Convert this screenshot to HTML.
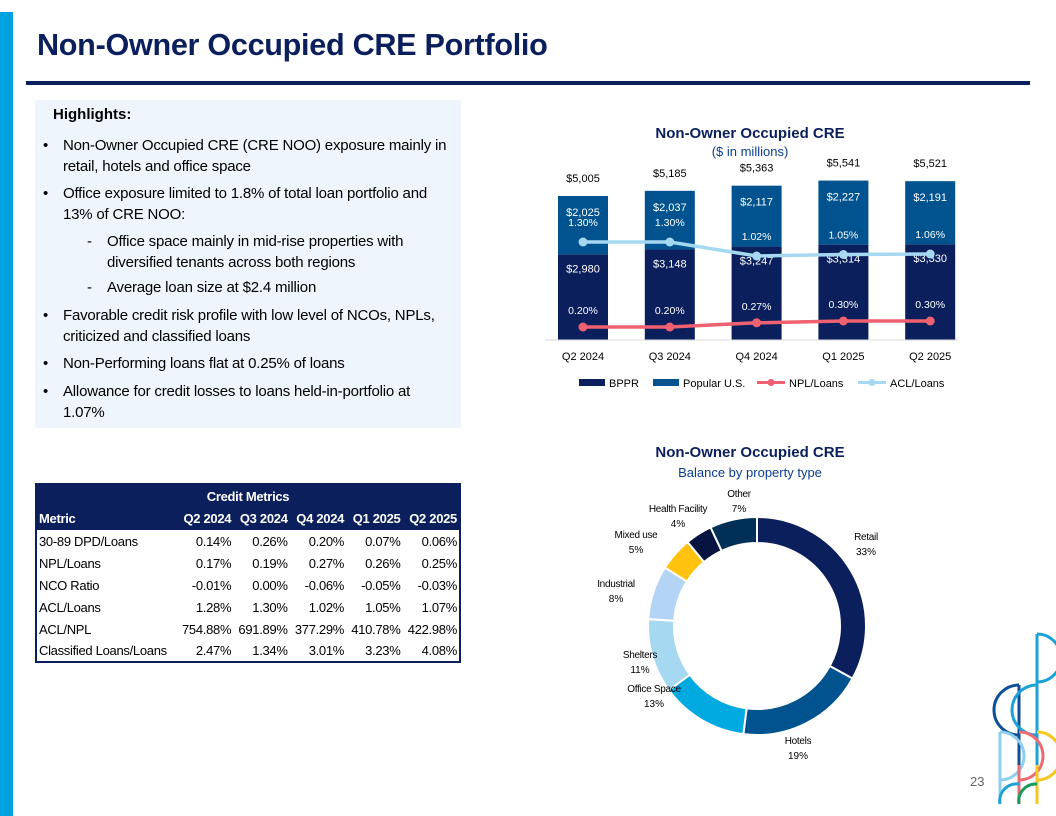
<!DOCTYPE html>
<html><head><meta charset="utf-8">
<style>
*{margin:0;padding:0;box-sizing:border-box}
body{width:1056px;height:816px;position:relative;background:#fff;font-family:"Liberation Sans",sans-serif;overflow:hidden;color:#000}
.abs{position:absolute}
#title{left:37px;top:28px;font-size:30.6px;font-weight:bold;color:#0a1f5c;letter-spacing:-0.3px}
#rule{left:26px;top:81px;width:1004px;height:4px;background:#0a1f5c}
#strip{left:0;top:12px;width:13px;height:804px;background:#00a3e0}
#hl{left:35px;top:100px;width:426px;height:328px;background:#eef5fd}
#hl .h{position:absolute;left:18px;top:6px;font-weight:bold;font-size:15px}
.b{position:absolute;font-size:15px;line-height:21px;letter-spacing:-0.2px}
.b.l1{left:8px}.b.l1 .t{margin-left:20px;display:block}
.bd{position:absolute;left:0}
table{border-collapse:collapse;font-size:13px;letter-spacing:-0.3px}
#tbl{left:35px;top:483px;width:426px;border:2px solid #0a1f5c}
#tbl td{height:22px;padding:0 2px;text-align:right;white-space:nowrap}
#tbl td:first-child{text-align:left}
#tbl tr.hd td{background:#0a1f5c;color:#fff;font-weight:bold;height:23px}
</style></head><body>
<div id="strip" class="abs"></div>
<div id="title" class="abs">Non-Owner Occupied CRE Portfolio</div>
<div id="rule" class="abs"></div>

<div id="hl" class="abs">
 <div class="h">Highlights:</div>
 <div class="b l1" style="top:35px;width:410px"><span class="bd">•</span><span class="t">Non-Owner Occupied CRE (CRE NOO) exposure mainly in retail, hotels and office space</span></div>
 <div class="b l1" style="top:83px;width:410px"><span class="bd">•</span><span class="t">Office exposure limited to 1.8% of total loan portfolio and 13% of CRE NOO:</span></div>
 <div class="b" style="left:52px;top:131px;width:360px"><span class="bd">-</span><span style="display:block;margin-left:20px">Office space mainly in mid-rise properties with diversified tenants across both regions</span></div>
 <div class="b" style="left:52px;top:177px;width:360px"><span class="bd">-</span><span style="display:block;margin-left:20px">Average loan size at $2.4 million</span></div>
 <div class="b l1" style="top:205px;width:410px"><span class="bd">•</span><span class="t">Favorable credit risk profile with low level of NCOs, NPLs, criticized and classified loans</span></div>
 <div class="b l1" style="top:253px;width:410px"><span class="bd">•</span><span class="t">Non-Performing loans flat at 0.25% of loans</span></div>
 <div class="b l1" style="top:281px;width:410px"><span class="bd">•</span><span class="t">Allowance for credit losses to loans held-in-portfolio at 1.07%</span></div>
</div>

<table id="tbl" class="abs">
<tr class="hd"><td colspan="6" style="text-align:center">Credit Metrics</td></tr>
<tr class="hd"><td>Metric</td><td>Q2 2024</td><td>Q3 2024</td><td>Q4 2024</td><td>Q1 2025</td><td>Q2 2025</td></tr>
<tr><td>30-89 DPD/Loans</td><td>0.14%</td><td>0.26%</td><td>0.20%</td><td>0.07%</td><td>0.06%</td></tr>
<tr><td>NPL/Loans</td><td>0.17%</td><td>0.19%</td><td>0.27%</td><td>0.26%</td><td>0.25%</td></tr>
<tr><td>NCO Ratio</td><td>-0.01%</td><td>0.00%</td><td>-0.06%</td><td>-0.05%</td><td>-0.03%</td></tr>
<tr><td>ACL/Loans</td><td>1.28%</td><td>1.30%</td><td>1.02%</td><td>1.05%</td><td>1.07%</td></tr>
<tr><td>ACL/NPL</td><td>754.88%</td><td>691.89%</td><td>377.29%</td><td>410.78%</td><td>422.98%</td></tr>
<tr><td>Classified Loans/Loans</td><td>2.47%</td><td>1.34%</td><td>3.01%</td><td>3.23%</td><td>4.08%</td></tr>
</table>

<svg id="chart" class="abs" style="left:0;top:0" width="1056" height="816" font-family="Liberation Sans, sans-serif"></svg>

<svg class="abs" style="left:960px;top:600px" width="96" height="216" fill="none" stroke-width="3">
 <path d="M77 34 V204 M77 34 a17 17 0 0 1 0 48" stroke="#1ba0d8"/>
 <path d="M59 85 V204 M59 85 a17 17 0 0 0 0 50" stroke="#0d4f96"/>
 <path d="M77 85 a17 17 0 0 0 0 50" stroke="#1ba0d8"/>
 <path d="M40 132 V204 M40 132 a17 17 0 0 1 0 48" stroke="#8ccfee"/>
 <path d="M59 132 a17 17 0 0 1 0 48 M59 165 V204" stroke="#ef6a73"/>
 <path d="M77 132 a17 17 0 0 1 0 48 M77 165 V204" stroke="#f6c623"/>
 <path d="M40 204 a17 17 0 0 1 19 -20" stroke="#1ba0d8"/>
 <path d="M59 204 a17 17 0 0 1 18 -20" stroke="#1a9a5a"/>
 <text x="10" y="186" font-size="13" fill="#666" stroke="none" font-family="Liberation Sans, sans-serif">23</text>
</svg>

<script>
const quarters=["Q2 2024","Q3 2024","Q4 2024","Q1 2025","Q2 2025"];
const bppr=[2980,3148,3247,3314,3330];
const popularUS=[2025,2037,2117,2227,2191];
const totals=[5005,5185,5363,5541,5521];
const aclLoans=[1.30,1.30,1.02,1.05,1.06];
const nplLoans=[0.20,0.20,0.27,0.30,0.30];
const donutLabels=["Retail","Hotels","Office Space","Shelters","Industrial","Mixed use","Health Facility","Other"];
const donutValues=[33,19,13,11,8,5,4,7];

const NS="http://www.w3.org/2000/svg";
const svg=document.getElementById('chart');
function mk(tag,attrs,parent){const e=document.createElementNS(NS,tag);for(const k in attrs)e.setAttribute(k,attrs[k]);(parent||svg).appendChild(e);return e;}
function txt(s,x,y,size,fill,extra){const t=mk('text',Object.assign({x:x,y:y,'font-size':size,fill:fill,'text-anchor':'middle'},extra||{}));t.textContent=s;return t;}

// bar chart
const base=340, k=0.02877, x0=583, step=86.8, bw=50;
const xAt=i=>x0+i*step, yBar=v=>base-v*k;
const yAcl=v=>307-v*50, yNpl=v=>339-v*60;
const fmt=v=>'$'+v.toLocaleString('en-US');
let t=txt('Non-Owner Occupied CRE',750,138,15,'#0a1f5c',{'font-weight':'bold'});

t=txt('($ in millions)',750,156,13,'#0a3d8f');

quarters.forEach((q,i)=>{
 const cx=xAt(i);
 let r=mk('rect',{x:cx-bw/2,y:yBar(bppr[i]),width:bw,height:bppr[i]*k,fill:'#0a1f5c'});
 
 r=mk('rect',{x:cx-bw/2,y:yBar(bppr[i]+popularUS[i]),width:bw,height:popularUS[i]*k,fill:'#00538f'});
 
 let l=txt(fmt(totals[i]),cx,yBar(totals[i])-14,11,'#000');
 
 l=txt(fmt(popularUS[i]),cx,yBar(bppr[i]+popularUS[i])+20,11,'#fff');
 
 l=txt(fmt(bppr[i]),cx,yBar(bppr[i])+18,11,'#fff');
 
 l=txt(aclLoans[i].toFixed(2)+'%',cx,yAcl(aclLoans[i])-16,10.5,'#fff');
 
 l=txt(nplLoans[i].toFixed(2)+'%',cx,yNpl(nplLoans[i])-13,10.5,'#fff');
 
 l=txt(q,cx,360,11,'#000');
 
});
let ax=mk('line',{x1:545,x2:958,y1:base,y2:base,stroke:'#d9d9d9','stroke-width':1});

function line(vals,yf,color,name){
 const p=mk('polyline',{points:vals.map((v,i)=>xAt(i)+','+yf(v)).join(' '),fill:'none',stroke:color,'stroke-width':3.5});
 
 vals.forEach((v,i)=>{const c=mk('circle',{cx:xAt(i),cy:yf(v),r:4.5,fill:color});
 });
}
line(aclLoans,yAcl,'#a6d8f2','acl');
line(nplLoans,yNpl,'#ef6170','npl');
// legend
const leg=[["BPPR",'#0a1f5c','rect',579],["Popular U.S.",'#00538f','rect',653],["NPL/Loans",'#ef6170','line',757],["ACL/Loans",'#a6d8f2','line',858]];
leg.forEach(([n,c,type,x])=>{
 const g=mk('g',{});
 if(type==='rect')mk('rect',{x:x,y:379,width:26,height:7,fill:c},g);
 else{mk('line',{x1:x,x2:x+28,y1:382.5,y2:382.5,stroke:c,'stroke-width':3},g);mk('circle',{cx:x+14,cy:382.5,r:3.5,fill:c},g);}
 const tt=mk('text',{x:x+(type==='rect'?30:32),y:387,'font-size':11,fill:'#000'},g);tt.textContent=n;
});

// donut
t=txt('Non-Owner Occupied CRE',750,457,15,'#0a1f5c',{'font-weight':'bold'});

t=txt('Balance by property type',750,477,13,'#0a3d8f');

const colors=['#0a1f5c','#00538f','#00a9e0','#a6d8f2','#b4d4f5','#ffc20e','#081440','#003057'];
const labelPos=[[866,540],[798,744],[654,692],[640,658],[616,587],[636,538],[678,512],[739,497]];
const cx=757,cy=626,R=109,r=83;
const total=donutValues.reduce((a,b)=>a+b,0);
let a0=0;
donutValues.forEach((v,i)=>{
 const a1=a0+v/total*Math.PI*2;
 const P=(rad,a)=>[cx+rad*Math.sin(a),cy-rad*Math.cos(a)];
 const [x1,y1]=P(R,a0),[x2,y2]=P(R,a1),[x3,y3]=P(r,a1),[x4,y4]=P(r,a0);
 const lg=(a1-a0)>Math.PI?1:0;
 const s=mk('path',{d:`M${x1},${y1} A${R},${R} 0 ${lg} 1 ${x2},${y2} L${x3},${y3} A${r},${r} 0 ${lg} 0 ${x4},${y4} Z`,fill:colors[i],stroke:'#fff','stroke-width':2});
 
 
 a0=a1;
});
donutValues.forEach((v,i)=>{
 const [lx,ly]=labelPos[i];
 let l=txt(donutLabels[i],lx,ly,10,'#000',{'letter-spacing':'-0.3'});
 
 l=txt(v+'%',lx,ly+15,10,'#000');
 
});
</script>
</body></html>
